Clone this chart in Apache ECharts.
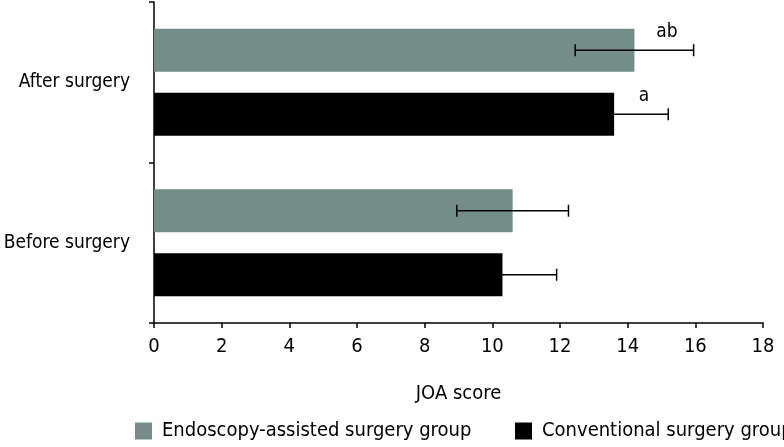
<!DOCTYPE html>
<html>
<head>
<meta charset="utf-8">
<script src="https://cdn.jsdelivr.net/npm/echarts@6/dist/echarts.min.js"></script>
<style>
html,body{margin:0;padding:0;background:#fff;}
#c{width:784px;height:447px;}
</style>
</head>
<body>
<div id="c"></div>
<script>
const categories = ['Before surgery', 'After surgery'];
const seriesNames = ['Endoscopy-assisted surgery group', 'Conventional surgery group'];
const endoMean = [10.6, 14.2];
const endoSD = [1.65, 1.75];
const convMean = [10.3, 13.6];
const convSD = [1.6, 1.6];
const endoSig = ['', 'ab'];
const convSig = ['', 'a'];
const xTicks = [0, 2, 4, 6, 8, 10, 12, 14, 16, 18];

const FONT = '"DejaVu Sans Condensed", "Liberation Sans Narrow", sans-serif';
const GREY = '#748d88';
const BAR_W = 43;
const BAR_GAP_PX = 21;
const OFF = (BAR_W + BAR_GAP_PX) / 2;

function errRender(offset, sig) {
  return function (params, api) {
    const cat = api.value(0), m = api.value(1), s = api.value(2);
    const lo = api.coord([m - s, cat]);
    const hi = api.coord([m + s, cat]);
    const mid = api.coord([m + s * 0.55, cat]);
    const y = lo[1] + offset;
    const h = 6;
    const st = { stroke: '#000', lineWidth: 1.5 };
    const children = [
      { type: 'line', shape: { x1: lo[0], y1: y, x2: hi[0], y2: y }, style: st },
      { type: 'line', shape: { x1: lo[0], y1: y - h, x2: lo[0], y2: y + h }, style: st },
      { type: 'line', shape: { x1: hi[0], y1: y - h, x2: hi[0], y2: y + h }, style: st }
    ];
    const t = sig[params.dataIndex];
    if (t) {
      children.push({
        type: 'text',
        style: { text: t, x: mid[0], y: y - 18, align: 'center', verticalAlign: 'middle',
                 fill: '#000', font: '19px ' + FONT }
      });
    }
    return { type: 'group', children: children };
  };
}

const legendText = { fontSize: 20, color: '#000', fontFamily: FONT, padding: [0, 0, 0, 5] };

const chart = echarts.init(document.getElementById('c'), null, { renderer: 'canvas' });
chart.setOption({
  animation: false,
  textStyle: { fontFamily: FONT },
  grid: { left: 154, right: 21, top: 2, bottom: 124, containLabel: false, outerBoundsMode: 'none' },
  xAxis: {
    type: 'value', min: 0, max: 18, interval: 2,
    name: 'JOA score', nameLocation: 'middle', nameGap: 61,
    nameTextStyle: { fontSize: 20, color: '#000', fontFamily: FONT },
    axisLine: { show: true, lineStyle: { color: '#000', width: 1.5 } },
    axisTick: { show: true, length: 5, lineStyle: { color: '#000', width: 1.5 } },
    axisLabel: { fontSize: 20, color: '#000', margin: 14, fontFamily: FONT,
                 formatter: v => xTicks.includes(v) ? String(v) : '' },
    splitLine: { show: false }
  },
  yAxis: {
    type: 'category', data: categories,
    axisLine: { show: true, lineStyle: { color: '#000', width: 1.5 } },
    axisTick: { show: true, length: 5, lineStyle: { color: '#000', width: 1.5 } },
    axisLabel: { fontSize: 19, color: '#000', margin: 24, fontFamily: FONT }
  },
  legend: [
    { data: [seriesNames[0]], left: 130, top: 416, icon: 'rect',
      itemWidth: 17, itemHeight: 17, textStyle: legendText },
    { data: [seriesNames[1]], left: 510, top: 416, icon: 'rect',
      itemWidth: 17, itemHeight: 17, textStyle: legendText }
  ],
  series: [
    { name: seriesNames[0], type: 'bar', data: endoMean, barWidth: BAR_W,
      barGap: (BAR_GAP_PX / BAR_W * 100) + '%', itemStyle: { color: GREY } },
    { name: seriesNames[1], type: 'bar', data: convMean, barWidth: BAR_W,
      itemStyle: { color: '#000' } },
    { type: 'custom', z: 5, renderItem: errRender(-OFF, endoSig),
      encode: { x: 1, y: 0 },
      data: categories.map((c, i) => [i, endoMean[i], endoSD[i]]) },
    { type: 'custom', z: 5, renderItem: errRender(OFF, convSig),
      encode: { x: 1, y: 0 },
      data: categories.map((c, i) => [i, convMean[i], convSD[i]]) }
  ]
});
</script>
</body>
</html>
